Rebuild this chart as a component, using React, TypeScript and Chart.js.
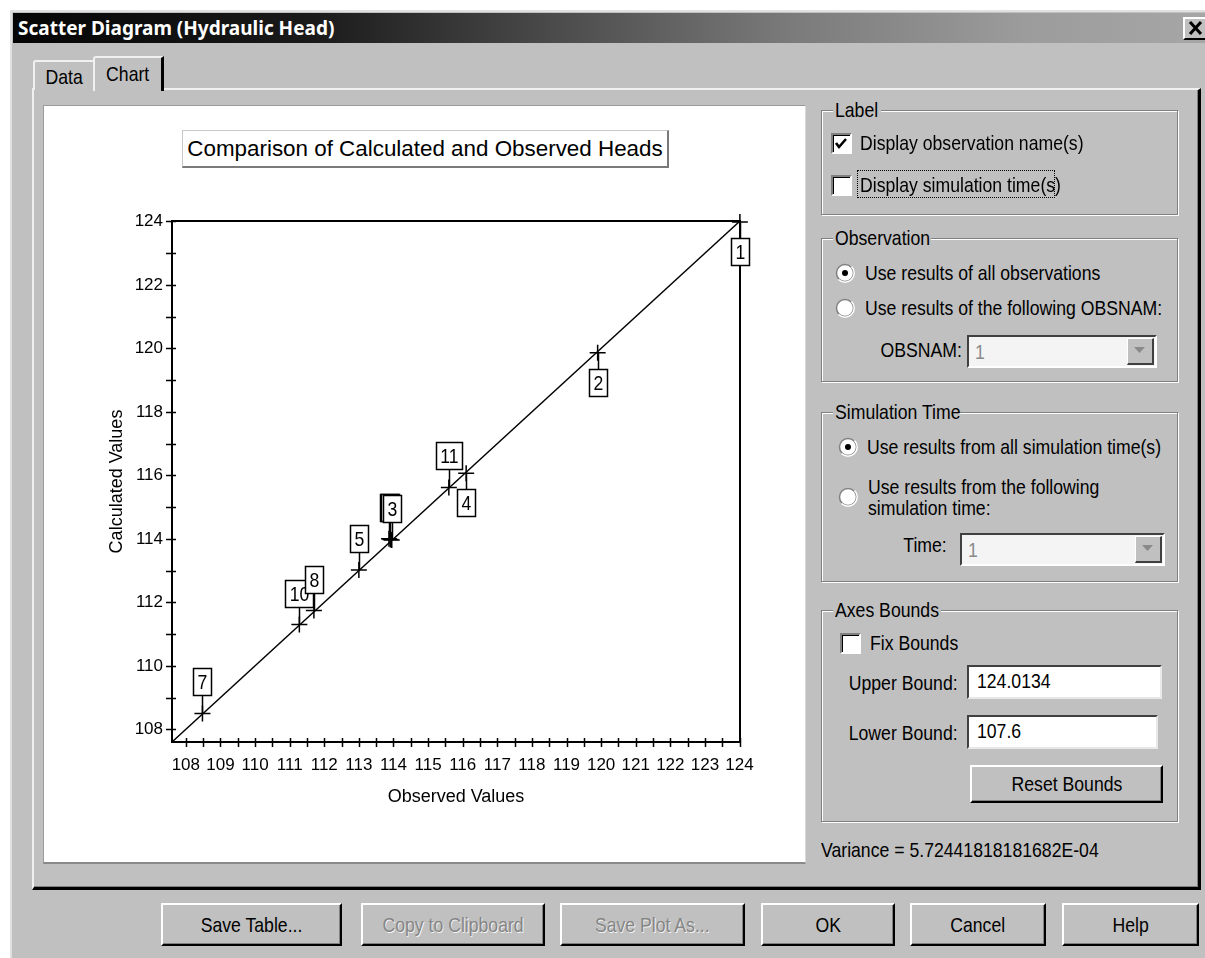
import React, { useEffect, useRef } from "react";
import { Chart, registerables } from "chart.js";
Chart.register(...registerables);

// ---------------- data ----------------
const obsNames = ["1", "2", "3", "4", "5", "6", "7", "8", "9", "10", "11"];
const observedValues = [124.01, 119.9, 113.95, 116.1, 113.0, 113.91, 108.48, 111.7, 113.87, 111.28, 115.6];
const calculatedValues = [123.98, 119.86, 113.96, 116.07, 113.02, 113.98, 108.5, 111.74, 114.0, 111.3, 115.62];
const lowerBound = 107.6;
const upperBound = 124.0134;
const xTickValues = [108, 109, 110, 111, 112, 113, 114, 115, 116, 117, 118, 119, 120, 121, 122, 123, 124];
const yTickValues = [108, 110, 112, 114, 116, 118, 120, 122, 124];
const chartTitle = "Comparison of Calculated and Observed Heads";
const xTitle = "Observed Values";
const yTitle = "Calculated Values";
const varianceText = "Variance = 5.72441818181682E-04";

const SANS = '"Liberation Sans", Arial, sans-serif';
const BG = "#c0c0c0";
const SQUEEZE = 0.84;

// minor tick marks: labelled ticks plus midpoints between them
function withMidpoints(arr: number[]) {
  const out: number[] = [];
  arr.forEach((v, i) => {
    out.push(v);
    if (i < arr.length - 1) out.push((v + arr[i + 1]) / 2);
  });
  return out;
}

const framePlugin = {
  id: "frame",
  afterDatasetsDraw(chart: any) {
    const { ctx, chartArea } = chart;
    const xs = chart.scales.x;
    const ys = chart.scales.y;
    ctx.save();
    ctx.strokeStyle = "#000";
    ctx.lineWidth = 2;
    ctx.beginPath();
    ctx.moveTo(chartArea.left, chartArea.top);
    ctx.lineTo(chartArea.right, chartArea.top);
    ctx.lineTo(chartArea.right, chartArea.bottom);
    ctx.lineTo(chartArea.left, chartArea.bottom);
    ctx.closePath();
    ctx.stroke();
    ctx.lineWidth = 1.5;
    ctx.beginPath();
    withMidpoints(xTickValues).forEach((v) => {
      const px = Math.round(xs.getPixelForValue(v)) + 0.5;
      ctx.moveTo(px, chartArea.bottom - 4);
      ctx.lineTo(px, chartArea.bottom + 5);
    });
    withMidpoints(yTickValues).forEach((v) => {
      const py = Math.round(ys.getPixelForValue(v)) + 0.5;
      ctx.moveTo(chartArea.left - 6, py);
      ctx.lineTo(chartArea.left + 4, py);
    });
    ctx.stroke();
    ctx.restore();
  },
};

const labelPlugin = {
  id: "obsLabels",
  afterDraw(chart: any) {
    const { ctx } = chart;
    const meta = chart.getDatasetMeta(1);
    ctx.save();
    ctx.font = `21px ${SANS}`;
    ctx.textAlign = "center";
    ctx.textBaseline = "middle";
    const order = meta.data.map((_: any, i: number) => i).reverse();
    order.forEach((i: number) => {
      const el = meta.data[i];
      const x = el.x;
      const y = el.y;
      const above = calculatedValues[i] >= observedValues[i];
      const text = obsNames[i];
      const w = Math.round(ctx.measureText(text).width * SQUEEZE + 8);
      const h = 27;
      const bx = Math.round(x - w / 2) + 0.5;
      const by = above ? Math.round(y - 18 - h) + 0.5 : Math.round(y + 16) + 0.5;
      ctx.strokeStyle = "#000";
      ctx.lineWidth = 1.5;
      ctx.beginPath();
      ctx.moveTo(Math.round(x) + 0.5, y);
      ctx.lineTo(Math.round(x) + 0.5, above ? by + h : by);
      ctx.stroke();
      ctx.fillStyle = "#fff";
      ctx.fillRect(bx, by, w, h);
      ctx.strokeRect(bx, by, w, h);
      ctx.fillStyle = "#000";
      ctx.save();
      ctx.translate(bx + w / 2, by + h / 2 + 1);
      ctx.scale(SQUEEZE, 1);
      ctx.fillText(text, 0, 0);
      ctx.restore();
    });
    ctx.restore();
  },
};

function ScatterChart() {
  const ref = useRef<HTMLCanvasElement | null>(null);
  useEffect(() => {
    if (!ref.current) return;
    const tickFont = { family: SANS, size: 17 };
    const titleFont = { family: SANS, size: 18 };
    const chart = new Chart(ref.current, {
      type: "scatter",
      data: {
        datasets: [
          {
            type: "line",
            data: [
              { x: lowerBound, y: lowerBound },
              { x: upperBound, y: upperBound },
            ],
            borderColor: "#000",
            borderWidth: 1.5,
            pointRadius: 0,
            fill: false,
            clip: false,
          } as any,
          {
            type: "scatter",
            data: observedValues.map((v, i) => ({ x: v, y: calculatedValues[i] })),
            pointStyle: "cross",
            pointRadius: 8,
            borderColor: "#000",
            backgroundColor: "#000",
            borderWidth: 1.5,
            clip: false,
          } as any,
        ],
      },
      options: {
        animation: false,
        responsive: false,
        events: [],
        layout: { padding: { left: 40, top: 115, right: 65, bottom: 41 } },
        plugins: { legend: { display: false }, tooltip: { enabled: false }, title: { display: false } },
        scales: {
          x: {
            type: "linear",
            min: lowerBound,
            max: upperBound,
            afterBuildTicks: (s: any) => {
              s.ticks = xTickValues.map((v) => ({ value: v }));
            },
            afterFit: (s: any) => {
              s.height = 80;
            },
            grid: { display: false, drawTicks: false },
            border: { display: false },
            ticks: {
              autoSkip: false,
              maxRotation: 0,
              minRotation: 0,
              padding: 13,
              color: "#000",
              font: tickFont,
              callback: (v: any) => String(v),
            },
            title: {
              display: true,
              text: xTitle,
              color: "#000",
              font: titleFont,
              padding: { top: 0, bottom: 14 },
            },
          },
          y: {
            type: "linear",
            min: lowerBound,
            max: upperBound,
            afterBuildTicks: (s: any) => {
              s.ticks = yTickValues.map((v) => ({ value: v }));
            },
            afterFit: (s: any) => {
              s.width = 89;
            },
            grid: { display: false, drawTicks: false },
            border: { display: false },
            ticks: {
              autoSkip: false,
              padding: 9,
              color: "#000",
              font: tickFont,
              callback: (v: any) => String(v),
            },
            title: {
              display: true,
              text: yTitle,
              color: "#000",
              font: titleFont,
              padding: { top: 23, bottom: 0 },
            },
          },
        },
      } as any,
      plugins: [framePlugin, labelPlugin],
    });
    return () => chart.destroy();
  }, []);
  return <canvas ref={ref} width={762} height={757} style={{ position: "absolute", left: 43, top: 106, width: 762, height: 757 }} />;
}

// ---------------- dialog widgets ----------------
const abs = (l: number, t: number, w: number, h: number, extra: any = {}) => ({
  position: "absolute" as const,
  left: l,
  top: t,
  width: w,
  height: h,
  boxSizing: "border-box" as const,
  ...extra,
});

function N({ children, origin }: any) {
  return (
    <span style={{ display: "inline-block", transform: `scaleX(${SQUEEZE})`, transformOrigin: origin || "left center", whiteSpace: "nowrap" }}>
      {children}
    </span>
  );
}

function Text({ x, cy, children, right, color }: any) {
  const s: any = {
    position: "absolute",
    top: cy - 13,
    height: 26,
    lineHeight: "26px",
    whiteSpace: "nowrap",
    color: color || "#000",
  };
  if (right !== undefined) {
    s.right = 1205 - right;
    s.textAlign = "right";
  } else s.left = x;
  return (
    <div style={s}>
      <N origin={right !== undefined ? "right center" : "left center"}>{children}</N>
    </div>
  );
}

function Group({ x, y, w, h, title, tw }: any) {
  return (
    <>
      <div style={abs(x, y, w, h, { border: "1px solid #808080", boxShadow: "inset 1px 1px 0 #fff, 1px 1px 0 #fff" })} />
      <div style={{ position: "absolute", left: x + 12, top: y - 13, width: tw, height: 26, lineHeight: "26px", background: BG, whiteSpace: "nowrap", overflow: "visible" }}>
        <span style={{ display: "inline-block", paddingLeft: 2 }}>
          <N>{title}</N>
        </span>
      </div>
    </>
  );
}

function CheckBox({ x, y, checked }: any) {
  return (
    <div style={abs(x, y, 21, 21, { background: "#fff", borderTop: "2px solid #808080", borderLeft: "2px solid #808080", borderRight: "2px solid #fff", borderBottom: "2px solid #fff", boxShadow: "inset 1px 1px 0 #000" })}>
      {checked && (
        <svg width={17} height={17} style={{ position: "absolute", left: 0, top: 0 }}>
          <polyline points="3,8 6,12 13,4" fill="none" stroke="#000" strokeWidth={2.6} />
        </svg>
      )}
    </div>
  );
}

function Radio({ cx, cy, on }: any) {
  return (
    <svg width={20} height={20} style={{ position: "absolute", left: cx - 10, top: cy - 10 }}>
      <circle cx={10} cy={10} r={8.5} fill="#fff" stroke="#808080" strokeWidth={1.5} />
      <path d="M3.5,16.5 A8.5,8.5 0 0 0 16.5,3.5" fill="none" stroke="#fff" strokeWidth={1.5} />
      {on && <circle cx={10} cy={10} r={3} fill="#000" />}
    </svg>
  );
}

function Combo({ x, y, w, h, value }: any) {
  return (
    <div style={abs(x, y, w, h, { background: "#f4f4f4", borderTop: "2px solid #404040", borderLeft: "2px solid #404040", borderRight: "2px solid #fff", borderBottom: "2px solid #fff" })}>
      <div style={{ position: "absolute", left: 6, top: 2, lineHeight: "26px", color: "#8a8a8a" }}>
        <N>{value}</N>
      </div>
      <div style={abs(w - 32, 1, 27, h - 6, { background: BG, borderTop: "1px solid #fff", borderLeft: "1px solid #fff", borderRight: "2px solid #404040", borderBottom: "2px solid #404040" })}>
        <svg width={23} height={22} style={{ position: "absolute", left: 0, top: 0 }}>
          <polygon points="6,8 17,8 11.5,14" fill="#8a8a8a" />
        </svg>
      </div>
    </div>
  );
}

function TextBox({ x, y, w, h, value }: any) {
  return (
    <div style={abs(x, y, w, h, { background: "#fff", borderTop: "2px solid #404040", borderLeft: "2px solid #404040", borderRight: "2px solid #e8e8e8", borderBottom: "2px solid #e8e8e8", paddingLeft: 8, lineHeight: "27px", whiteSpace: "nowrap" })}>
      <N>{value}</N>
    </div>
  );
}

function Button({ x, y, w, h, label, disabled }: any) {
  return (
    <div
      style={abs(x, y, w, h, {
        background: BG,
        borderTop: "2px solid #fff",
        borderLeft: "2px solid #fff",
        borderRight: "2px solid #000",
        borderBottom: "2px solid #000",
        boxShadow: "inset -1px -1px 0 #808080",
        textAlign: "center",
        lineHeight: `${h - 4}px`,
        color: disabled ? "#858585" : "#000",
        textShadow: disabled ? "1px 1px 0 #f4f4f4" : "none",
        whiteSpace: "nowrap",
      })}
    >
      <N origin="center center">{label}</N>
    </div>
  );
}

export default function App() {
  return (
    <div style={{ position: "absolute", left: 0, top: 0, width: 1205, height: 958, overflow: "hidden", background: "#fff", fontFamily: SANS, fontSize: 21, color: "#000" }}>
      {/* dialog */}
      <div style={abs(10, 10, 1200, 960, { background: BG, borderTop: "2px solid #e0e0e0", borderLeft: "2px solid #e0e0e0" })} />
      {/* title bar */}
      <div style={abs(13, 13, 1192, 30, { background: "linear-gradient(to right, #050505 0%, #1a1a1a 25%, #7a7a7a 65%, #9c9c9c 85%, #a6a6a6 100%)" })}>
        <div style={{ position: "absolute", left: 5, top: 0, lineHeight: "30px", color: "#fff", fontFamily: '"Noto Sans", "DejaVu Sans", sans-serif', fontWeight: 700, fontSize: 19, whiteSpace: "nowrap" }}>
          Scatter Diagram (Hydraulic Head)
        </div>
      </div>
      <div style={abs(1183, 17, 26, 23, { background: BG, borderTop: "2px solid #fff", borderLeft: "2px solid #fff", borderRight: "2px solid #000", borderBottom: "2px solid #000" })}>
        <svg width={22} height={19} style={{ position: "absolute", left: 0, top: 0 }}>
          <path d="M5,3 L16,15 M16,3 L5,15" stroke="#000" strokeWidth={3} />
        </svg>
      </div>

      {/* tab panel */}
      <div style={abs(32, 88, 1169, 802, { borderTop: "2px solid #f0f0f0", borderLeft: "2px solid #f0f0f0", borderRight: "3px solid #000", borderBottom: "3px solid #000", boxShadow: "inset -1px -1px 0 #808080" })} />
      {/* tabs */}
      <div style={abs(33, 60, 61, 30, { background: BG, borderTop: "2px solid #f0f0f0", borderLeft: "2px solid #f0f0f0", borderRight: "1px solid #808080", borderTopLeftRadius: 3, textAlign: "center", lineHeight: "29px" })}>
        <N origin="center center">Data</N>
      </div>
      <div style={abs(93, 56, 71, 35, { background: BG, borderTop: "2px solid #f0f0f0", borderLeft: "2px solid #f0f0f0", borderRight: "3px solid #000", borderTopLeftRadius: 3, textAlign: "center", lineHeight: "32px" })}>
        <N origin="center center">Chart</N>
      </div>

      {/* chart area */}
      <div style={abs(43, 105, 763, 759, { background: "#fff", borderTop: "1px solid #9a9a9a", borderLeft: "1px solid #9a9a9a", borderBottom: "2px solid #8a8a8a", borderRight: "1px solid #d8d8d8" })} />
      <ScatterChart />
      <div
        style={abs(182, 130, 487, 38, {
          background: "#fff",
          borderTop: "1px solid #c8c8c8",
          borderLeft: "1px solid #c8c8c8",
          borderRight: "2px solid #7a7a7a",
          borderBottom: "2px solid #7a7a7a",
          textAlign: "center",
          lineHeight: "35px",
          fontFamily: SANS,
          fontSize: 22.4,
          whiteSpace: "nowrap",
        })}
      >
        {chartTitle}
      </div>

      {/* Label group */}
      <Group x={821} y={110} w={357} h={105} title="Label" tw={48} />
      <CheckBox x={831} y={133} checked />
      <Text x={860} cy={143}>Display observation name(s)</Text>
      <CheckBox x={831} y={175} />
      <div style={abs(857, 170, 198, 28, { border: "1px dotted #000" })} />
      <Text x={860} cy={185}>Display simulation time(s)</Text>

      {/* Observation group */}
      <Group x={821} y={238} w={357} h={144} title="Observation" tw={98} />
      <Radio cx={845} cy={273} on />
      <Text x={865} cy={273}>Use results of all observations</Text>
      <Radio cx={845} cy={308} />
      <Text x={865} cy={308}>Use results of the following OBSNAM:</Text>
      <Text right={962} cy={350}>OBSNAM:</Text>
      <Combo x={967} y={335} w={190} h={33} value="1" />

      {/* Simulation Time group */}
      <Group x={821} y={412} w={357} h={170} title="Simulation Time" tw={126} />
      <Radio cx={848} cy={447} on />
      <Text x={867} cy={447}>Use results from all simulation time(s)</Text>
      <Radio cx={848} cy={497} />
      <Text x={868} cy={487}>Use results from the following</Text>
      <Text x={868} cy={508}>simulation time:</Text>
      <Text right={947} cy={545}>Time:</Text>
      <Combo x={960} y={533} w={205} h={33} value="1" />

      {/* Axes Bounds group */}
      <Group x={821} y={610} w={357} h={212} title="Axes Bounds" tw={108} />
      <CheckBox x={840} y={633} />
      <Text x={870} cy={643}>Fix Bounds</Text>
      <Text right={958} cy={683}>Upper Bound:</Text>
      <TextBox x={967} y={665} w={195} h={34} value={String(upperBound)} />
      <Text right={958} cy={733}>Lower Bound:</Text>
      <TextBox x={967} y={715} w={191} h={34} value={String(lowerBound)} />
      <Button x={970} y={765} w={193} h={38} label="Reset Bounds" />

      <Text x={821} cy={850}>{varianceText}</Text>

      {/* bottom buttons */}
      <Button x={161} y={903} w={181} h={43} label="Save Table..." />
      <Button x={361} y={903} w={184} h={43} label="Copy to Clipboard" disabled />
      <Button x={560} y={903} w={185} h={43} label="Save Plot As..." disabled />
      <Button x={761} y={903} w={134} h={43} label="OK" />
      <Button x={910} y={903} w={136} h={43} label="Cancel" />
      <Button x={1062} y={903} w={137} h={43} label="Help" />
    </div>
  );
}
